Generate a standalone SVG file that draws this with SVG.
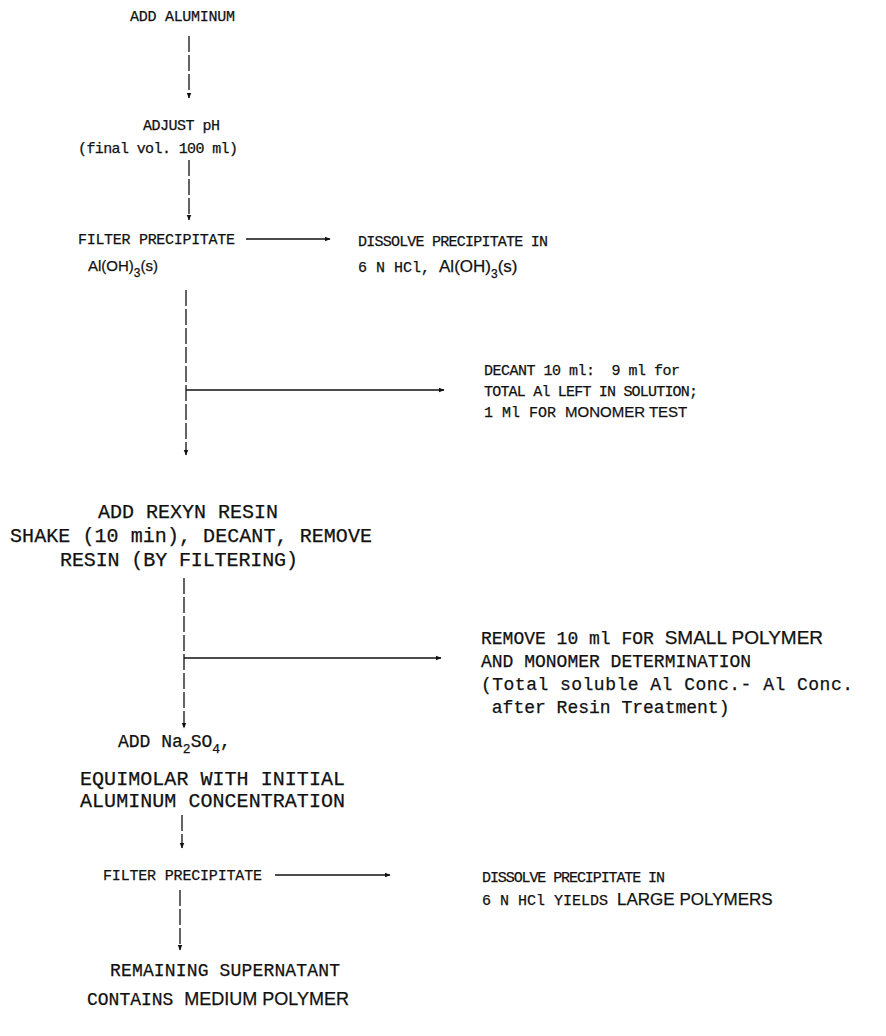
<svg xmlns="http://www.w3.org/2000/svg" width="886" height="1036" viewBox="0 0 886 1036">
<defs>
<marker id="ah" viewBox="0 0 10 10" refX="9" refY="5" markerWidth="6" markerHeight="6" orient="auto" markerUnits="userSpaceOnUse">
<path d="M0,1 L10,5 L0,9 Z" fill="#111"/>
</marker>
</defs>
<style>
text{font-family:"Liberation Mono","DejaVu Sans Mono",monospace;font-size:15px;fill:#111;stroke:#111;stroke-width:0.25}
.s{font-family:"Liberation Sans","DejaVu Sans",sans-serif}
.m{font-size:18px}
.l{font-size:20px}
.v{stroke:#111;stroke-width:1.3;fill:none;stroke-dasharray:16 3}
.h{stroke:#111;stroke-width:1.3;fill:none}
</style>
<rect width="886" height="1036" fill="#fff"/>
<g id="connectors">
<path class="v" d="M189,36 V98" marker-end="url(#ah)"/>
<path class="v" d="M189,160 V220" marker-end="url(#ah)"/>
<path class="h" d="M246,239 H330" marker-end="url(#ah)"/>
<path class="v" d="M186,290 V455" marker-end="url(#ah)"/>
<path class="h" d="M186,390 H444" marker-end="url(#ah)"/>
<path class="v" d="M184,578 V728" marker-end="url(#ah)"/>
<path class="h" d="M184,658 H441" marker-end="url(#ah)"/>
<path class="v" d="M182,815 V848" marker-end="url(#ah)"/>
<path class="h" d="M275,875 H390" marker-end="url(#ah)"/>
<path class="v" d="M180,890 V950" marker-end="url(#ah)"/>
</g>
<g id="add-aluminum"><text x="130" y="21" textLength="105">ADD ALUMINUM</text></g>
<g id="adjust-ph">
<text x="143" y="130" textLength="77">ADJUST pH</text>
<text x="78" y="153" textLength="160">(final vol. 100 ml)</text>
</g>
<g id="filter-1">
<text x="78" y="244" textLength="157">FILTER PRECIPITATE</text>
<text x="88" y="271" class="s" font-size="17">Al(OH)<tspan font-size="12" dy="6">3</tspan><tspan dy="-6">(s)</tspan></text>
</g>
<g id="dissolve-1">
<text x="358" y="246" textLength="190">DISSOLVE PRECIPITATE IN</text>
<text x="358" y="272">6 N HCl, <tspan class="s" font-size="17">Al(OH)</tspan><tspan class="s" font-size="12" dy="6">3</tspan><tspan class="s" font-size="17" dy="-6">(s)</tspan></text>
</g>
<g id="decant">
<text x="484" y="375" textLength="196" xml:space="preserve">DECANT 10 ml:  9 ml for</text>
<text x="484" y="396" textLength="214">TOTAL Al LEFT IN SOLUTION;</text>
<text x="484" y="417">1 Ml FOR <tspan class="s" font-size="15">MONOMER TEST</tspan></text>
</g>
<g id="rexyn">
<text class="l" x="98" y="518" textLength="180">ADD REXYN RESIN</text>
<text class="l" x="10" y="542" textLength="362">SHAKE (10 min), DECANT, REMOVE</text>
<text class="l" x="60" y="566" textLength="238">RESIN (BY FILTERING)</text>
</g>
<g id="remove-10">
<text class="m" x="481" y="644">REMOVE 10 ml FOR <tspan class="s" font-size="19">SMALL POLYMER</tspan></text>
<text class="m" x="481" y="667">AND MONOMER DETERMINATION</text>
<text class="m" x="481" y="690" textLength="372">(Total soluble Al Conc.- Al Conc.</text>
<text class="m" x="481" y="713" xml:space="preserve"> after Resin Treatment)</text>
</g>
<g id="na2so4">
<text class="m" x="118" y="747">ADD Na<tspan font-size="13" dy="6">2</tspan><tspan dy="-6">SO</tspan><tspan font-size="13" dy="6">4</tspan><tspan dy="-6">,</tspan></text>
<text class="l" x="80" y="785" textLength="265">EQUIMOLAR WITH INITIAL</text>
<text class="l" x="80" y="807" textLength="265">ALUMINUM CONCENTRATION</text>
</g>
<g id="filter-2"><text x="103" y="880" textLength="159">FILTER PRECIPITATE</text></g>
<g id="dissolve-2">
<text x="482" y="882" textLength="183">DISSOLVE PRECIPITATE IN</text>
<text x="482" y="905">6 N HCl YIELDS <tspan class="s" font-size="17">LARGE POLYMERS</tspan></text>
</g>
<g id="supernatant">
<text class="m" x="110" y="976" textLength="230">REMAINING SUPERNATANT</text>
<text class="m" x="87" y="1005">CONTAINS <tspan class="s" font-size="18">MEDIUM POLYMER</tspan></text>
</g>
</svg>
